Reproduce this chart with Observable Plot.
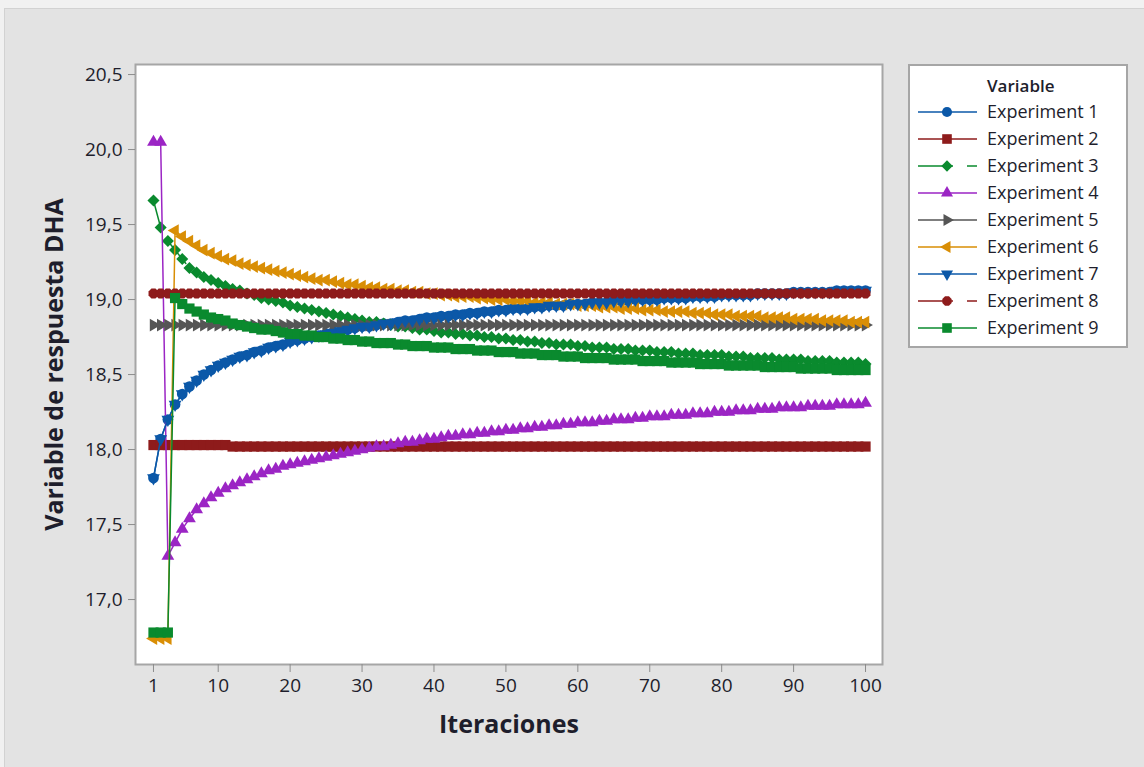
<!DOCTYPE html>
<html><head><meta charset="utf-8">
<script src="https://cdn.jsdelivr.net/npm/d3@7"></script>
<script src="https://cdn.jsdelivr.net/npm/@observablehq/plot@0.6"></script>
<style>
body{margin:0;background:#f1f1f1;font-family:"Open Sans",sans-serif;}
#wrap{position:relative;width:1144px;height:767px;overflow:hidden;}
#bg{position:absolute;left:4px;top:8px;right:0;bottom:0;background:#e3e3e3;border-left:1px solid #d2d2d2;border-top:1px solid #d2d2d2;}
#chart{position:absolute;left:0;top:0;}
#legend{position:absolute;left:0;top:0;}
</style></head><body>
<div id="wrap"><div id="bg"></div><div id="chart"></div><svg id="legend" width="1144" height="767"></svg></div>
<script>
const xTitle = "Iteraciones";
const yTitle = "Variable de respuesta DHA";
const legendTitle = "Variable";
const seriesNames = ["Experiment 1","Experiment 2","Experiment 3","Experiment 4","Experiment 5","Experiment 6","Experiment 7","Experiment 8","Experiment 9"];
const xTicks = [1,10,20,30,40,50,60,70,80,90,100];
const yTicks = [17.0,17.5,18.0,18.5,19.0,19.5,20.0,20.5];

const exp7 = [17.81,18.07,18.20,18.30,18.37,18.42,18.46,18.50,18.53,18.56,
 18.58,18.60,18.62,18.63,18.65,18.66,18.68,18.69,18.70,18.72,
 18.73,18.74,18.75,18.76,18.77,18.78,18.79,18.80,18.81,18.82,
 18.82,18.83,18.84,18.84,18.85,18.86,18.86,18.87,18.88,18.88,
 18.89,18.89,18.90,18.90,18.91,18.91,18.92,18.92,18.93,18.93,
 18.94,18.94,18.94,18.95,18.95,18.96,18.96,18.96,18.97,18.97,
 18.97,18.98,18.98,18.98,18.99,18.99,18.99,19.00,19.00,19.00,
 19.00,19.01,19.01,19.01,19.01,19.02,19.02,19.02,19.02,19.03,
 19.03,19.03,19.03,19.03,19.04,19.04,19.04,19.04,19.04,19.05,
 19.05,19.05,19.05,19.05,19.05,19.06,19.06,19.06,19.06,19.06];
// Experiment 1 coincides with Experiment 7 in the picture (hidden beneath it)
const exp1 = [17.81,18.07,18.20,18.30,18.37,18.42,18.46,18.50,18.53,18.56,
 18.58,18.60,18.62,18.63,18.65,18.66,18.68,18.69,18.70,18.72,
 18.73,18.74,18.75,18.76,18.77,18.78,18.79,18.80,18.81,18.82,
 18.82,18.83,18.84,18.84,18.85,18.86,18.86,18.87,18.88,18.88,
 18.89,18.89,18.90,18.90,18.91,18.91,18.92,18.92,18.93,18.93,
 18.94,18.94,18.94,18.95,18.95,18.96,18.96,18.96,18.97,18.97,
 18.97,18.98,18.98,18.98,18.99,18.99,18.99,19.00,19.00,19.00,
 19.00,19.01,19.01,19.01,19.01,19.02,19.02,19.02,19.02,19.03,
 19.03,19.03,19.03,19.03,19.04,19.04,19.04,19.04,19.04,19.05,
 19.05,19.05,19.05,19.05,19.05,19.06,19.06,19.06,19.06,19.06];
const exp2 = [18.03,18.03,18.03,18.03,18.03,18.03,18.03,18.03,18.03,18.03,
 18.03,18.02,18.02,18.02,18.02,18.02,18.02,18.02,18.02,18.02,
 18.02,18.02,18.02,18.02,18.02,18.02,18.02,18.02,18.02,18.02,
 18.02,18.02,18.02,18.02,18.02,18.02,18.02,18.02,18.02,18.02,
 18.02,18.02,18.02,18.02,18.02,18.02,18.02,18.02,18.02,18.02,
 18.02,18.02,18.02,18.02,18.02,18.02,18.02,18.02,18.02,18.02,
 18.02,18.02,18.02,18.02,18.02,18.02,18.02,18.02,18.02,18.02,
 18.02,18.02,18.02,18.02,18.02,18.02,18.02,18.02,18.02,18.02,
 18.02,18.02,18.02,18.02,18.02,18.02,18.02,18.02,18.02,18.02,
 18.02,18.02,18.02,18.02,18.02,18.02,18.02,18.02,18.02,18.02];
const exp3 = [19.66,19.48,19.39,19.33,19.27,19.21,19.18,19.15,19.13,19.11,
 19.09,19.07,19.06,19.04,19.03,19.01,19.00,18.99,18.98,18.96,
 18.95,18.94,18.93,18.92,18.91,18.90,18.89,18.88,18.87,18.86,
 18.85,18.85,18.84,18.83,18.82,18.82,18.81,18.80,18.80,18.79,
 18.78,18.78,18.77,18.77,18.76,18.76,18.75,18.75,18.74,18.74,
 18.73,18.73,18.72,18.72,18.71,18.71,18.70,18.70,18.70,18.69,
 18.69,18.68,18.68,18.68,18.67,18.67,18.67,18.66,18.66,18.66,
 18.65,18.65,18.65,18.64,18.64,18.64,18.63,18.63,18.63,18.63,
 18.62,18.62,18.62,18.61,18.61,18.61,18.61,18.60,18.60,18.60,
 18.60,18.59,18.59,18.59,18.59,18.58,18.58,18.58,18.58,18.57];
const exp4 = [20.05,20.05,17.29,17.38,17.47,17.54,17.60,17.64,17.68,17.71,
 17.74,17.76,17.78,17.80,17.82,17.84,17.86,17.87,17.89,17.90,
 17.91,17.92,17.93,17.94,17.95,17.96,17.97,17.98,17.99,18.00,
 18.01,18.02,18.02,18.03,18.04,18.05,18.05,18.06,18.07,18.07,
 18.08,18.09,18.09,18.10,18.10,18.11,18.11,18.12,18.12,18.13,
 18.13,18.14,18.14,18.15,18.15,18.16,18.16,18.17,18.17,18.18,
 18.18,18.18,18.19,18.19,18.20,18.20,18.20,18.21,18.21,18.22,
 18.22,18.22,18.23,18.23,18.23,18.24,18.24,18.24,18.25,18.25,
 18.25,18.26,18.26,18.26,18.27,18.27,18.27,18.28,18.28,18.28,
 18.28,18.29,18.29,18.29,18.29,18.30,18.30,18.30,18.30,18.31];
const exp5 = [18.83,18.83,18.83,18.83,18.83,18.83,18.83,18.83,18.83,18.83,
 18.83,18.83,18.83,18.83,18.83,18.83,18.83,18.83,18.83,18.83,
 18.83,18.83,18.83,18.83,18.83,18.83,18.83,18.83,18.83,18.83,
 18.83,18.83,18.83,18.83,18.83,18.83,18.83,18.83,18.83,18.83,
 18.83,18.83,18.83,18.83,18.83,18.83,18.83,18.83,18.83,18.83,
 18.83,18.83,18.83,18.83,18.83,18.83,18.83,18.83,18.83,18.83,
 18.83,18.83,18.83,18.83,18.83,18.83,18.83,18.83,18.83,18.83,
 18.83,18.83,18.83,18.83,18.83,18.83,18.83,18.83,18.83,18.83,
 18.83,18.83,18.83,18.83,18.83,18.83,18.83,18.83,18.83,18.83,
 18.83,18.83,18.83,18.83,18.83,18.83,18.83,18.83,18.83,18.83];
const exp6 = [16.74,16.74,16.74,19.46,19.42,19.39,19.36,19.33,19.31,19.29,
 19.27,19.26,19.24,19.23,19.22,19.21,19.20,19.19,19.18,19.17,
 19.16,19.15,19.14,19.13,19.13,19.12,19.11,19.10,19.10,19.09,
 19.08,19.08,19.07,19.07,19.06,19.06,19.05,19.05,19.04,19.04,
 19.03,19.03,19.02,19.02,19.02,19.01,19.01,19.00,19.00,19.00,
 18.99,18.99,18.99,18.98,18.98,18.98,18.97,18.97,18.97,18.96,
 18.96,18.96,18.95,18.95,18.95,18.94,18.94,18.94,18.93,18.93,
 18.93,18.92,18.92,18.92,18.92,18.91,18.91,18.91,18.90,18.90,
 18.90,18.89,18.89,18.89,18.89,18.88,18.88,18.88,18.88,18.87,
 18.87,18.87,18.87,18.86,18.86,18.86,18.86,18.85,18.85,18.85];
const exp8 = [19.04,19.04,19.04,19.04,19.04,19.04,19.04,19.04,19.04,19.04,
 19.04,19.04,19.04,19.04,19.04,19.04,19.04,19.04,19.04,19.04,
 19.04,19.04,19.04,19.04,19.04,19.04,19.04,19.04,19.04,19.04,
 19.04,19.04,19.04,19.04,19.04,19.04,19.04,19.04,19.04,19.04,
 19.04,19.04,19.04,19.04,19.04,19.04,19.04,19.04,19.04,19.04,
 19.04,19.04,19.04,19.04,19.04,19.04,19.04,19.04,19.04,19.04,
 19.04,19.04,19.04,19.04,19.04,19.04,19.04,19.04,19.04,19.04,
 19.04,19.04,19.04,19.04,19.04,19.04,19.04,19.04,19.04,19.04,
 19.04,19.04,19.04,19.04,19.04,19.04,19.04,19.04,19.04,19.04,
 19.04,19.04,19.04,19.04,19.04,19.04,19.04,19.04,19.04,19.04];
const exp9 = [16.78,16.78,16.78,19.01,18.97,18.94,18.92,18.90,18.88,18.87,
 18.86,18.84,18.83,18.82,18.81,18.80,18.80,18.79,18.78,18.77,
 18.77,18.76,18.76,18.75,18.75,18.74,18.74,18.73,18.73,18.72,
 18.72,18.71,18.71,18.71,18.70,18.70,18.69,18.69,18.69,18.68,
 18.68,18.68,18.67,18.67,18.67,18.66,18.66,18.66,18.65,18.65,
 18.65,18.64,18.64,18.64,18.63,18.63,18.63,18.62,18.62,18.62,
 18.61,18.61,18.61,18.61,18.60,18.60,18.60,18.60,18.59,18.59,
 18.59,18.59,18.58,18.58,18.58,18.58,18.57,18.57,18.57,18.57,
 18.56,18.56,18.56,18.56,18.56,18.55,18.55,18.55,18.55,18.55,
 18.54,18.54,18.54,18.54,18.54,18.53,18.53,18.53,18.53,18.53];

const seriesValues = [exp1, exp2, exp3, exp4, exp5, exp6, exp7, exp8, exp9];
const seriesColors = ["#0b58a8","#8e1b1b","#0a8a2e","#9b25c4","#555555","#d98e05","#0b58a8","#8e1b1b","#0a8a2e"];
const seriesDash = [null,null,"30,12",null,null,null,null,"30,12",null];

// marker shapes
const base = size => Math.sqrt(size / Math.PI);
const symCircle = {draw(c, s){const r = base(s)*1.05; c.moveTo(r,0); c.arc(0,0,r,0,2*Math.PI); c.closePath();}};
const symSquare = {draw(c, s){const h = base(s)*1.0; c.moveTo(-h,-h); c.lineTo(h,-h); c.lineTo(h,h); c.lineTo(-h,h); c.closePath();}};
const symDiamond = {draw(c, s){const h = base(s)*1.18; c.moveTo(0,-h); c.lineTo(h,0); c.lineTo(0,h); c.lineTo(-h,0); c.closePath();}};
const tri = ang => ({draw(c, s){const r = base(s)*1.45; for (let k = 0; k < 3; k++){const a = ang + k*2*Math.PI/3; const x = r*Math.cos(a), y = r*Math.sin(a); if (k) c.lineTo(x,y); else c.moveTo(x,y);} c.closePath();}});
const symOct = {draw(c, s){const r = base(s)*1.05; for (let k = 0; k < 8; k++){const a = Math.PI/8 + k*Math.PI/4; const x = r*Math.cos(a), y = r*Math.sin(a); if (k) c.lineTo(x,y); else c.moveTo(x,y);} c.closePath();}};
const seriesSymbols = [symCircle, symSquare, symDiamond, tri(-Math.PI/2), tri(0), tri(Math.PI), tri(Math.PI/2), symOct, symSquare];

const R = 5.1;
const seriesMarks = [];
seriesValues.forEach((vals, i) => {
  const data = vals.map((v, j) => ({iter: j + 1, value: v, series: seriesNames[i]}));
  seriesMarks.push(Plot.line(data, {x: "iter", y: "value", stroke: seriesColors[i], strokeWidth: 1.5, strokeDasharray: seriesDash[i] || undefined}));
  seriesMarks.push(Plot.dot(data, {x: "iter", y: "value", symbol: seriesSymbols[i], r: R, fill: seriesColors[i], stroke: "none"}));
});

const textColor = "#1e1e2c";
const chart = Plot.plot({
  width: 1144, height: 767,
  marginLeft: 135, marginRight: 262, marginTop: 64, marginBottom: 103,
  x: {domain: [-1.5, 102.36], label: null},
  y: {domain: [16.567, 20.567], label: null},
  style: {background: "transparent", fontFamily: "'Open Sans', sans-serif", fontSize: "19px", color: textColor, overflow: "visible"},
  marks: [
    Plot.frame({fill: "white", stroke: "none"}),
    ...seriesMarks,
    Plot.frame({stroke: "#a6a6a6", strokeWidth: 2}),
    Plot.axisX({ticks: xTicks, tickSize: 8, tickPadding: 6, stroke: "#8c8c8c", fill: textColor, label: null, tickFormat: d => String(d)}),
    Plot.axisY({ticks: yTicks, tickSize: 7, tickPadding: 6, stroke: "#8c8c8c", fill: textColor, label: null, tickFormat: d => d.toFixed(1).replace(".", ",")}),
    Plot.text([xTitle], {frameAnchor: "bottom", dy: 60, fontSize: 25, fontWeight: "bold", fill: textColor, lineAnchor: "middle", textAnchor: "middle"}),
    Plot.text([yTitle], {frameAnchor: "left", dx: -81, rotate: -90, fontSize: 25, fontWeight: "bold", fill: textColor, lineAnchor: "middle", textAnchor: "middle"})
  ]
});
document.getElementById("chart").appendChild(chart);

// legend
const lg = d3.select("#legend");
lg.append("rect").attr("x", 909).attr("y", 65).attr("width", 218).attr("height", 282)
  .attr("fill", "white").attr("stroke", "#a6a6a6").attr("stroke-width", 2);
lg.append("text").attr("x", 987).attr("y", 86).attr("dy", "0.35em").text(legendTitle)
  .attr("font-family", "'Open Sans', sans-serif").attr("font-size", 17).attr("font-weight", 600).attr("fill", textColor);
seriesNames.forEach((name, i) => {
  const y = 112 + i * 27;
  lg.append("line").attr("x1", 918).attr("x2", 977).attr("y1", y).attr("y2", y)
    .attr("stroke", seriesColors[i]).attr("stroke-width", 1.5)
    .attr("stroke-dasharray", seriesDash[i] ? "35,14" : null);
  lg.append("path").attr("transform", `translate(947,${y})`)
    .attr("d", d3.symbol(seriesSymbols[i], Math.PI * 4.8 * 4.8)())
    .attr("fill", seriesColors[i]);
  lg.append("text").attr("x", 987).attr("y", y).attr("dy", "0.35em").text(name)
    .attr("font-family", "'Open Sans', sans-serif").attr("font-size", 18).attr("fill", textColor);
});
</script>
</body></html>
